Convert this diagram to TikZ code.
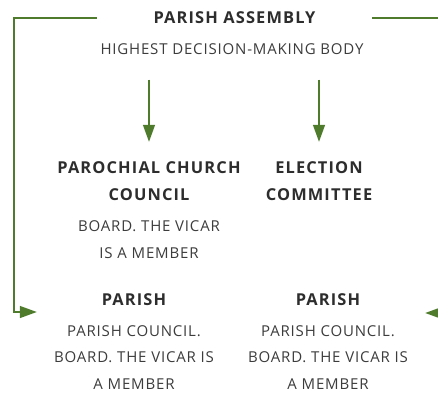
\documentclass[tikz,border=0pt]{standalone}
\usepackage{fontspec}
\setmainfont{Open Sans}
\newfontfamily\headfont{Open Sans}[UprightFont=*-Bold, LetterSpace=7]
\newfontfamily\descfont{Open Sans}[LetterSpace=5.5]
\usetikzlibrary{positioning,arrows.meta}
\definecolor{leaf}{RGB}{78,124,44}
\definecolor{ink}{RGB}{45,45,45}
\definecolor{softink}{RGB}{60,60,60}
\begin{document}
\begin{tikzpicture}[x=1pt,y=1pt,
    head/.style={font=\fontsize{16.4}{27}\headfont, text=ink, align=center, inner sep=0pt},
    desc/.style={font=\fontsize{15}{27}\descfont, text=softink, align=center, inner sep=0pt},
    link/.style={leaf, line width=1.4pt},
    arr/.style={link, -{Triangle[length=17pt,width=12pt]}}]
    \useasboundingbox (0,0) rectangle (438,392);
    % Assembly at the top
    \node[head, text width=275pt] (assembly) at (234.5,374) {PARISH ASSEMBLY};
    \node[desc] (highest) at (232,343) {HIGHEST DECISION-MAKING BODY};

    % Bodies elected by the assembly
    \node[head] (pcc) at (149,210.5) {PAROCHIAL CHURCH\\COUNCIL};
    \node[desc] (pccdesc) at (149,152.5) {BOARD. THE VICAR\\IS A MEMBER};
    \node[head] (elec) at (319,210.5) {ELECTION\\COMMITTEE};

    % Parishes
    \node[head, text width=194pt] (parl) at (134,92) {PARISH};
    \node[desc, font=\fontsize{15}{26.3}\descfont] (parldesc) at (134,34.5) {PARISH COUNCIL.\\BOARD. THE VICAR IS\\A MEMBER};
    \node[head, text width=194pt] (parr) at (328,92) {PARISH};
    \node[desc, font=\fontsize{15}{26.3}\descfont] (parrdesc) at (328,34.5) {PARISH COUNCIL.\\BOARD. THE VICAR IS\\A MEMBER};

    % Connectors
    \draw[arr] (pcc |- highest.south) ++(0,-25) -- ([yshift=20pt]pcc.north);
    \draw[arr] (elec |- highest.south) ++(0,-25) -- ([yshift=20pt]elec.north);
    \draw[arr] (assembly.west) -| (14,80) -- ([yshift=-12pt]parl.west);
    \draw[arr] (assembly.east) -| (446,79) -- ([yshift=-13pt]parr.east);
\end{tikzpicture}
\end{document}
